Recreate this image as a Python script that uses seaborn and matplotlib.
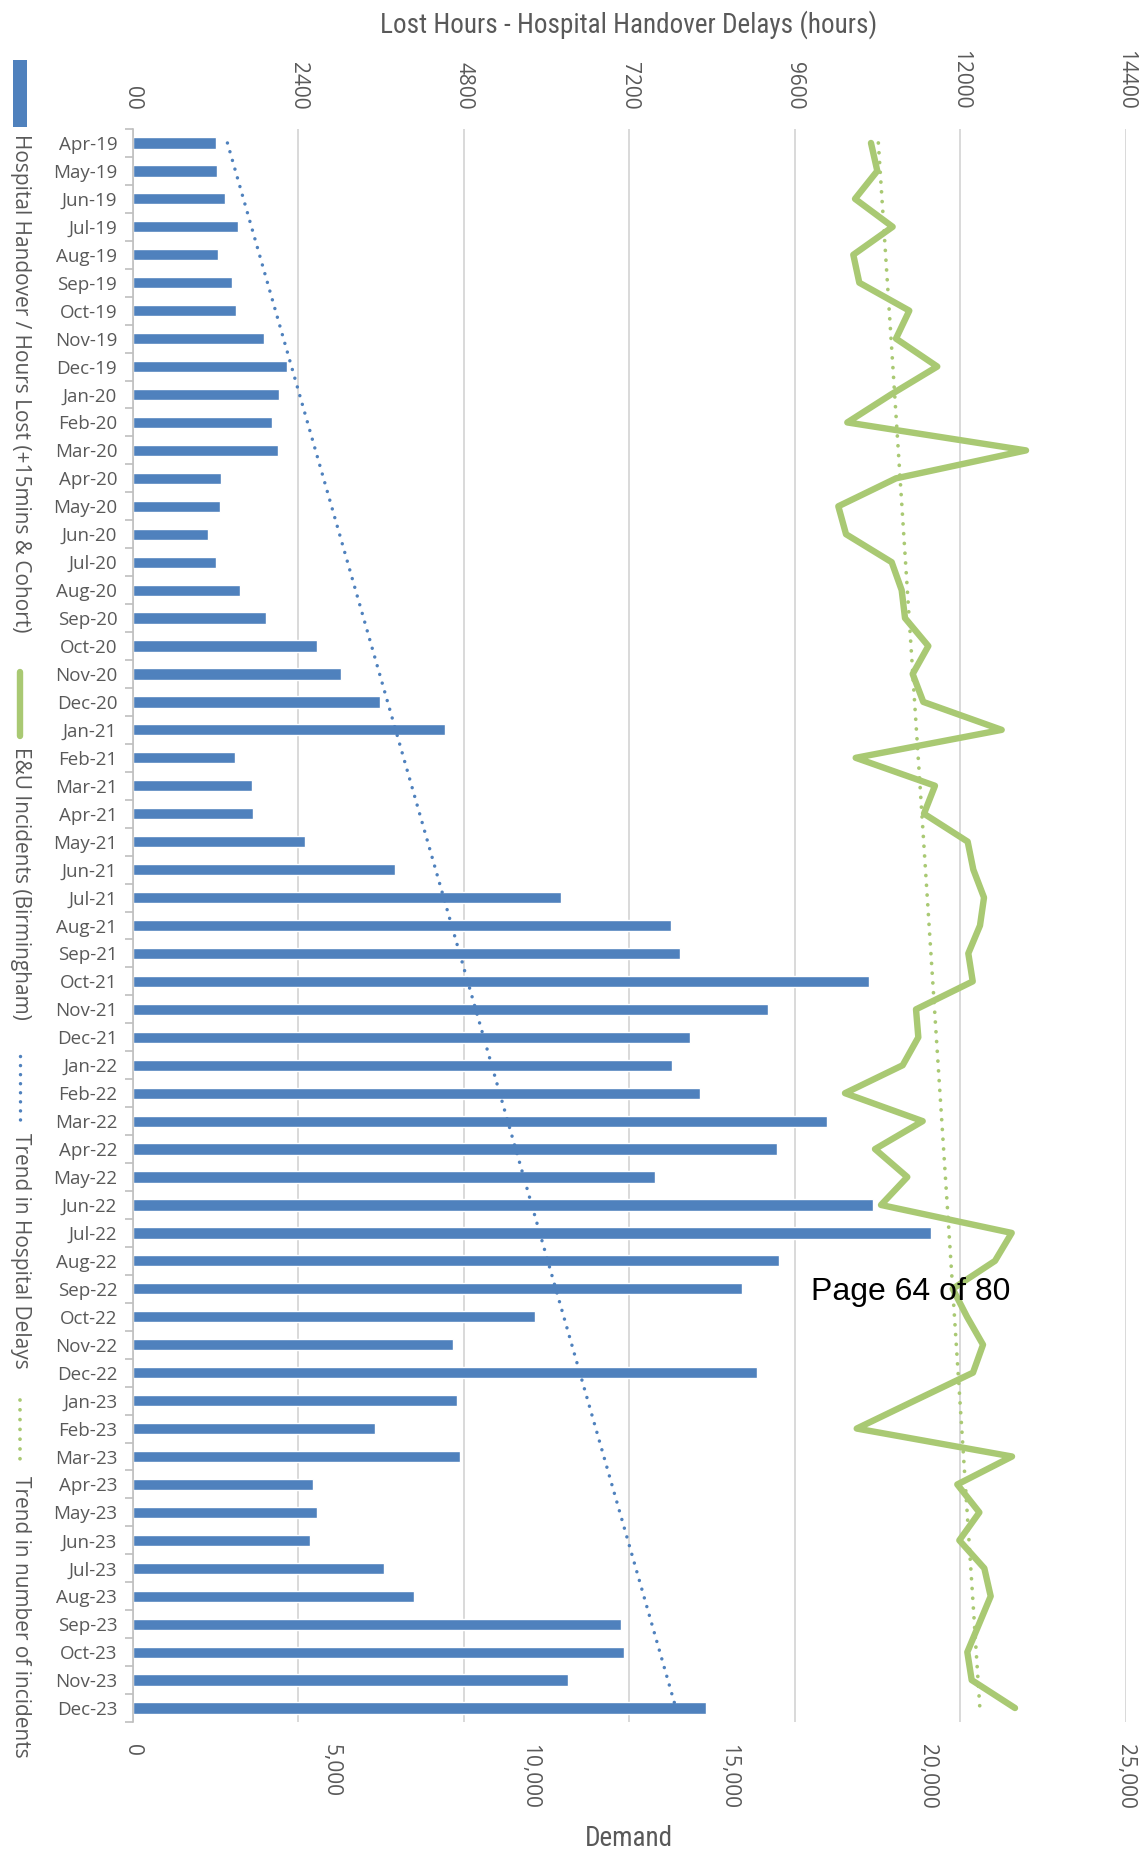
import numpy as np
import pandas as pd
import matplotlib
matplotlib.use("Agg")
import matplotlib.pyplot as plt
from matplotlib.lines import Line2D
from matplotlib.patches import Rectangle
import seaborn as sns

# ---- data -------------------------------------------------------------
months = [
    "Apr-19", "May-19", "Jun-19", "Jul-19", "Aug-19", "Sep-19", "Oct-19", "Nov-19", "Dec-19",
    "Jan-20", "Feb-20", "Mar-20", "Apr-20", "May-20", "Jun-20", "Jul-20", "Aug-20", "Sep-20",
    "Oct-20", "Nov-20", "Dec-20",
    "Jan-21", "Feb-21", "Mar-21", "Apr-21", "May-21", "Jun-21", "Jul-21", "Aug-21", "Sep-21",
    "Oct-21", "Nov-21", "Dec-21",
    "Jan-22", "Feb-22", "Mar-22", "Apr-22", "May-22", "Jun-22", "Jul-22", "Aug-22", "Sep-22",
    "Oct-22", "Nov-22", "Dec-22",
    "Jan-23", "Feb-23", "Mar-23", "Apr-23", "May-23", "Jun-23", "Jul-23", "Aug-23", "Sep-23",
    "Oct-23", "Nov-23", "Dec-23",
]

hours_lost = [
    1210, 1219, 1335, 1528, 1234, 1441, 1504, 1913, 2246,
    2125, 2029, 2116, 1277, 1272, 1089, 1214, 1557, 1937, 2674, 3017, 3583,
    4526, 1491, 1731, 1749, 2503, 3806, 6206, 7800, 7937, 10680, 9206, 8074,
    7817, 8229, 10063, 9343, 7577, 10731, 11571, 9377, 8829, 5829, 4646, 9051,
    4697, 3514, 4749, 2623, 2674, 2571, 3651, 4080, 7080, 7131, 6309, 8314,
]

incidents = [
    18583, 18742, 18181, 19128, 18138, 18289, 19547, 19212, 20251,
    19086, 17987, 22484, 19212, 17761, 17955, 19104, 19355, 19439, 20026, 19632, 19899,
    21872, 18198, 20193, 19917, 21016, 21158, 21427, 21326, 21032, 21143, 19716, 19774,
    19381, 17929, 19884, 18684, 19497, 18835, 22124, 21704, 20639, 20999, 21402, 21150,
    19683, 18224, 22132, 20755, 21310, 20806, 21435, 21595, 21301, 21007, 21117, 22207,
]

hours_ticks = [0, 2400, 4800, 7200, 9600, 12000, 14400]
hours_tick_labels = ["00", "2400", "4800", "7200", "9600", "12000", "14400"]
demand_ticks = [0, 5000, 10000, 15000, 20000, 25000]
demand_tick_labels = ["0", "5,000", "10,000", "15,000", "20,000", "25,000"]

legend_labels = [
    "Hospital Handover / Hours Lost (+15mins & Cohort)",
    "E&U Incidents (Birmingham)",
    "Trend in Hospital Delays",
    "Trend in number of incidents",
]

# ---- style ------------------------------------------------------------
BLUE = "#4F81BD"
GREEN = "#A9C973"
GRID = "#D9D9D9"
TEXT = "#595959"
DOTS = (0, (0.01, 2.6))

sns.set_theme(style="white")
plt.rcParams["font.family"] = ["Open Sans", "DejaVu Sans"]
COND = ["Roboto Condensed", "Liberation Sans Narrow", "Open Sans", "DejaVu Sans"]

W, H = 1145, 1854
fig = plt.figure(figsize=(W / 100, H / 100), dpi=100)


def fx(px):
    return px / W


def fy(py):
    return 1 - py / H


ax = fig.add_axes([fx(132.5), fy(1722), fx(1126) - fx(132.5), fy(129) - fy(1722)])

df = pd.DataFrame({"month": months, "hours": hours_lost, "incidents": incidents})
df["pos"] = np.arange(len(df))

# Lost hours as horizontal bars (top axis)
sns.barplot(data=df, y="month", x="hours", orient="h", color=BLUE, saturation=1,
            width=0.4, ax=ax, zorder=2)

# trend line for lost hours
pos = df["pos"].to_numpy()
k_h, b_h = np.polyfit(pos, df["hours"].to_numpy(), 1)
ax.plot(k_h * pos + b_h, pos, color=BLUE, linewidth=2.5, linestyle=DOTS,
        dash_capstyle="round", zorder=3)

# incidents on the bottom axis
ax2 = ax.twiny()
sns.lineplot(data=df, x="incidents", y="pos", orient="y", sort=False, ax=ax2,
             color=GREEN, linewidth=4.6, zorder=4)
for ln in ax2.get_lines():
    ln.set_solid_joinstyle("round")
    ln.set_solid_capstyle("round")
k_d, b_d = np.polyfit(pos, df["incidents"].to_numpy(), 1)
ax2.plot(k_d * pos + b_d, pos, color=GREEN, linewidth=2.7, linestyle=DOTS,
         dash_capstyle="round", zorder=3)

# top axis: lost hours
ax.set_xlim(0, 14400)
ax.xaxis.set_ticks_position("top")
ax.xaxis.set_label_position("top")
ax.set_xticks(hours_ticks)
ax.set_xticklabels(hours_tick_labels, rotation=270, fontsize=15, color=TEXT)
ax.tick_params(axis="x", length=0, pad=14, labeltop=True, labelbottom=False)
ax.grid(axis="x", color=GRID, linewidth=1.4, zorder=0)
ax.grid(axis="y", visible=False)
ax.set_axisbelow(True)
ax.set_xlabel("")
ax.set_ylabel("")

# category axis: labels on left, tick marks between categories
ax.tick_params(axis="y", which="major", length=0, pad=11, labelsize=13.5, labelcolor=TEXT)
ax.set_yticks(np.arange(-0.5, len(months), 1.0), minor=True)
ax.tick_params(axis="y", which="minor", left=True, length=6, width=1.2, color="#BFBFBF",
               direction="out")
for s in ["top", "bottom", "right"]:
    ax.spines[s].set_visible(False)
ax.spines["left"].set_color("#BFBFBF")
ax.spines["left"].set_linewidth(1.2)

# bottom axis: demand
ax2.set_xlim(0, 25000)
ax2.xaxis.set_ticks_position("bottom")
ax2.xaxis.set_label_position("bottom")
ax2.set_xticks(demand_ticks)
ax2.set_xticklabels(demand_tick_labels, rotation=270, fontsize=15, color=TEXT)
ax2.tick_params(axis="x", length=0, pad=16, labelbottom=True, labeltop=False)
ax2.set_xlabel("")
ax2.set_ylabel("")
ax2.grid(False)
for s in ax2.spines.values():
    s.set_visible(False)

ax.set_ylim(len(months) - 0.5, -0.5)

# axis titles
fig.text(fx(629), fy(25), "Lost Hours - Hospital Handover Delays (hours)", ha="center",
         va="center", fontsize=19.5, color=TEXT, family=COND)
fig.text(fx(629), fy(1838), "Demand", ha="center", va="center", fontsize=19.5,
         color=TEXT, family=COND)

# vertical legend down the left edge
fig.add_artist(Rectangle((fx(13), fy(127)), fx(27) - fx(13), fy(60) - fy(127),
                         transform=fig.transFigure, color=BLUE, linewidth=0))
fig.add_artist(Line2D([fx(20), fx(20)], [fy(672), fy(736)], transform=fig.transFigure,
                      color=GREEN, linewidth=4.6, solid_capstyle="round"))
fig.add_artist(Line2D([fx(20), fx(20)], [fy(1056), fy(1121)], transform=fig.transFigure,
                      color=BLUE, linewidth=2.5, linestyle=DOTS, dash_capstyle="round"))
fig.add_artist(Line2D([fx(20), fx(20)], [fy(1400), fy(1465)], transform=fig.transFigure,
                      color=GREEN, linewidth=2.7, linestyle=DOTS, dash_capstyle="round"))
for label, top in zip(legend_labels, [134, 747, 1133, 1476]):
    fig.text(fx(20), fy(top), label, rotation=270, ha="center", va="top",
             fontsize=15, color=TEXT)

# page footer overlaid on the chart
fig.text(fx(811), fy(1300), "Page 64 of 80", ha="left", va="baseline", fontsize=23,
         color="black", family=["Liberation Sans", "DejaVu Sans"])

fig.savefig("out.png", dpi=100)
